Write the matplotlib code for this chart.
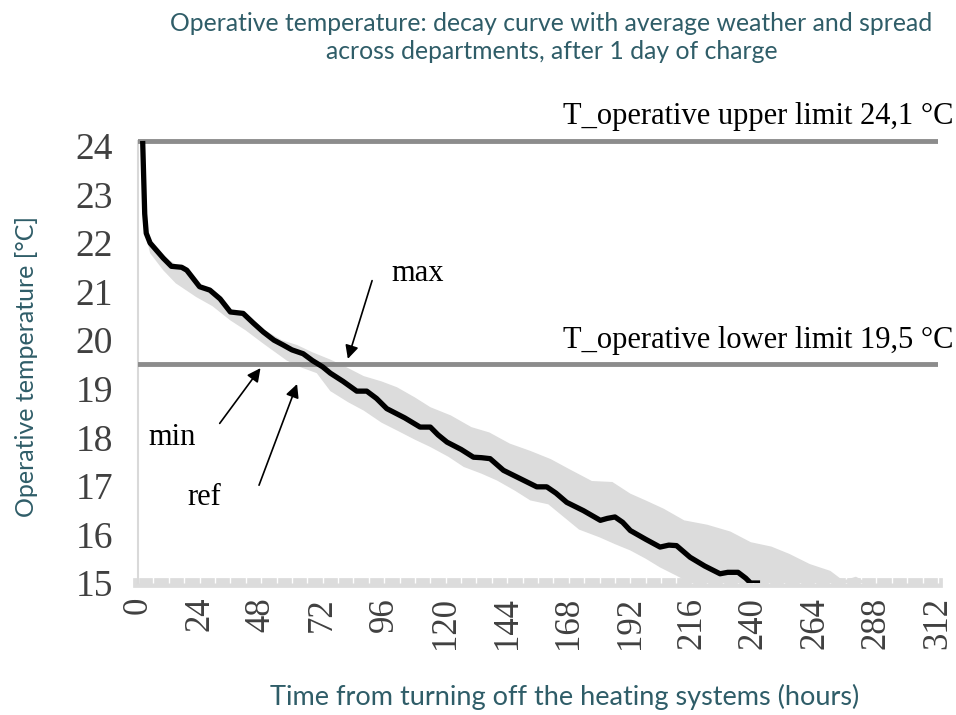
import matplotlib.pyplot as plt
import numpy as np

# Reference curve (black)
ref_hours = [1.8, 2.6, 3.2, 4.7, 9.8, 13, 17, 19, 24, 28, 32, 36, 41, 45, 48.8, 53, 56.6, 60,
             64.4, 68, 72, 75, 80, 85.3, 89.2, 93, 97, 104, 110, 114, 117, 120.5, 126, 130.8,
             134, 137.3, 142.5, 149, 155.5, 159.4, 163, 167.2, 173.7, 180.3, 183, 186, 189,
             192, 198, 203.6, 207, 210, 215.3, 221, 227, 230, 234, 237, 238.9, 242.6]
ref_temp = [24.1, 22.6, 22.2, 22.0, 21.69, 21.52, 21.5, 21.44, 21.1, 21.03, 20.85, 20.58, 20.55,
            20.35, 20.17, 20.0, 19.9, 19.8, 19.72, 19.58, 19.45, 19.32, 19.15, 18.95, 18.95,
            18.8, 18.59, 18.4, 18.21, 18.21, 18.05, 17.9, 17.75, 17.59, 17.58, 17.56, 17.32,
            17.15, 16.98, 16.98, 16.85, 16.66, 16.49, 16.29, 16.33, 16.36, 16.25, 16.08, 15.9,
            15.74, 15.78, 15.77, 15.53, 15.35, 15.19, 15.22, 15.22, 15.1, 15.0, 15.0]

# Spread across departments (grey band): upper (max) and lower (min) edges
max_hours = [2.5, 5, 10, 15, 19, 24, 28, 36, 41, 49, 56, 62, 68, 75, 81, 88, 95, 101, 108, 114,
             122, 130, 137, 145, 153, 161, 168, 177, 185, 192, 198, 205, 213, 222, 231, 239,
             247, 254, 262, 270, 275, 280, 284.5]
max_temp = [22.4, 21.95, 21.72, 21.55, 21.46, 21.15, 21.06, 20.62, 20.6, 20.22, 20.0, 19.9,
            19.75, 19.6, 19.45, 19.26, 19.15, 19.03, 18.82, 18.62, 18.45, 18.21, 18.1, 17.87,
            17.72, 17.55, 17.35, 17.1, 17.08, 16.84, 16.7, 16.53, 16.29, 16.2, 16.06, 15.84,
            15.75, 15.6, 15.39, 15.25, 15.05, 15.13, 15.0]
min_hours = [2.5, 4.7, 9.8, 14.7, 22.6, 29, 35.9, 42, 48.8, 58, 63, 69.7, 75, 82, 88, 95, 101,
             108, 114, 121, 127, 134, 140, 147, 153, 160, 166, 172, 180, 186, 192, 198, 203.6,
             210, 215.3]
min_temp = [22.3, 21.79, 21.44, 21.17, 20.89, 20.7, 20.41, 20.2, 19.93, 19.58, 19.45, 19.32,
            18.95, 18.72, 18.55, 18.3, 18.14, 17.95, 17.8, 17.6, 17.39, 17.25, 17.11, 16.9,
            16.7, 16.62, 16.36, 16.1, 15.94, 15.8, 15.67, 15.5, 15.32, 15.15, 15.0]

upper_limit = 24.1
lower_limit = 19.5
x_ticks = list(range(0, 313, 24))
y_ticks = list(range(15, 25))

title_color = "#2f5d68"
serif = "Liberation Serif"

fig = plt.figure(figsize=(9.56, 7.15), dpi=100)
ax = fig.add_axes([0.1444, 0.1846, 0.8368, 0.6318])

# Band and curve
band_x = np.concatenate([max_hours, min_hours[::-1]])
band_y = np.concatenate([max_temp, min_temp[::-1]])
ax.fill(band_x, band_y, color="#dcdcdc", lw=0, zorder=2)
ax.plot(ref_hours, ref_temp, color="black", lw=3.8, zorder=4,
        solid_capstyle="butt", solid_joinstyle="round")

# Comfort limits
for lim, txt in [(upper_limit, "T_operative upper limit 24,1 °C"),
                 (lower_limit, "T_operative lower limit 19,5 °C")]:
    ax.axhline(lim, color="#8c8c8c", lw=3.5, zorder=3)
    ax.text(318, lim + 0.2, txt, ha="right", va="bottom", fontsize=22,
            family=serif, color="black")

# Annotations
arrow = dict(arrowstyle="-|>", color="black", lw=1.2, mutation_scale=20)
ax.annotate("", xy=(81.5, 19.56), xytext=(91.6, 21.28), arrowprops=arrow, zorder=6)
ax.annotate("", xy=(48.4, 19.47), xytext=(31.2, 18.24), arrowprops=arrow, zorder=6)
ax.annotate("", xy=(62.4, 19.15), xytext=(46.8, 16.96), arrowprops=arrow, zorder=6)
ax.text(109.2, 21.38, "max", ha="center", va="center", fontsize=22, family=serif)
ax.text(13.3, 18.0, "min", ha="center", va="center", fontsize=22, family=serif)
ax.text(25.7, 16.76, "ref", ha="center", va="center", fontsize=22, family=serif)

# Axes styling
ax.set_xlim(0, 312)
ax.set_ylim(15, 24.3)
ax.set_xticks(x_ticks)
ax.set_xticks(range(0, 313, 6), minor=True)
ax.set_yticks(y_ticks)
ax.set_xticklabels([str(t) for t in x_ticks], rotation=90, family=serif, fontsize=25,
                   color="#404040")
ax.set_yticklabels([str(t) for t in y_ticks], family=serif, fontsize=27, color="#404040")
ax.tick_params(axis="y", length=0, pad=18)
ax.tick_params(axis="x", which="both", direction="in", length=7, width=1,
               color="white", pad=10)
for s in ["top", "right"]:
    ax.spines[s].set_visible(False)
ax.spines["left"].set_color("#d9d9d9")
ax.spines["left"].set_linewidth(1.5)
ax.spines["left"].set_bounds(15, upper_limit)
ax.spines["bottom"].set_color("#dcdcdc")
ax.spines["bottom"].set_linewidth(7)
ax.spines["bottom"].set_zorder(1)

fig.text(0.577, 0.948, "Operative temperature: decay curve with average weather and spread\n"
         "across departments, after 1 day of charge", ha="center", va="center",
         fontsize=17.8, color=title_color, family="Lato", linespacing=1.25)
fig.text(0.028, 0.487, "Operative temperature [°C]", rotation=90, ha="center", va="center",
         fontsize=18, color=title_color, family="Lato")
fig.text(0.591, 0.025, "Time from turning off the heating systems (hours)", ha="center",
         va="center", fontsize=19.5, color=title_color, family="Lato")

fig.savefig("out.png", dpi=100)
